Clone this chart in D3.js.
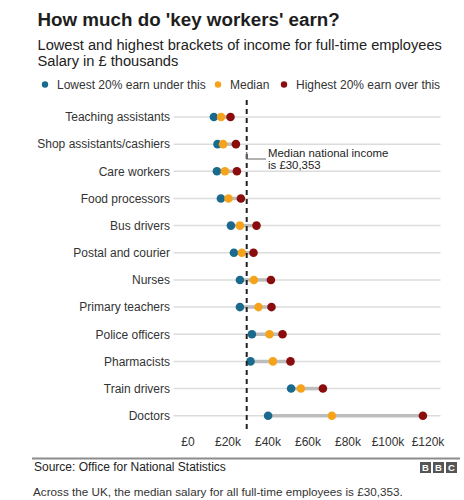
<!DOCTYPE html>
<html>
<head>
<meta charset="utf-8">
<script src="https://cdn.jsdelivr.net/npm/d3@7"></script>
<style>
  html, body { margin: 0; padding: 0; background: #fff; }
  svg { display: block; font-family: "Liberation Sans", Arial, Helvetica, sans-serif; }
</style>
</head>
<body>
<div id="chart"></div>
<script>
// ---- Data (salary in £ thousands) ----
const categories = ["Teaching assistants", "Shop assistants/cashiers", "Care workers", "Food processors",
  "Bus drivers", "Postal and courier", "Nurses", "Primary teachers", "Police officers",
  "Pharmacists", "Train drivers", "Doctors"];
const lowest20 = [13.2, 15.0, 14.7, 16.7, 21.7, 23.2, 26.2, 26.2, 32.2, 31.5, 51.8, 40.3];
const median   = [16.8, 17.8, 18.7, 20.5, 26.2, 27.2, 33.2, 35.5, 41.0, 42.7, 56.7, 72.2];
const highest20= [21.5, 24.2, 24.7, 26.7, 34.5, 33.0, 41.7, 42.0, 47.5, 51.5, 67.7, 117.7];
const tickValues = [0, 20, 40, 60, 80, 100, 120];
const tickLabels = ["£0", "£20k", "£40k", "£60k", "£80k", "£100k", "£120k"];
const nationalMedian = 30.353;
const seriesNames = ["Lowest 20% earn under this", "Median", "Highest 20% earn over this"];
const seriesColors = ["#1a6a8d", "#f5a31b", "#8a0c0c"];

const W = 464, H = 500;
const svg = d3.select("#chart").append("svg").attr("width", W).attr("height", H);

const x = d3.scaleLinear().domain([0, 120]).range([187.5, 427.5]);
const y = d3.scalePoint().domain(categories).range([117, 415.7]);

// Title & subtitle
svg.append("text").attr("x", 37.5).attr("y", 26).attr("font-size", 18.8).attr("font-weight", "bold")
  .attr("fill", "#1e1e1e").text("How much do 'key workers' earn?");
svg.append("text").attr("x", 37.5).attr("y", 50).attr("font-size", 14.65).attr("fill", "#222")
  .text("Lowest and highest brackets of income for full-time employees");
svg.append("text").attr("x", 37.5).attr("y", 66).attr("font-size", 14.65).attr("fill", "#222")
  .text("Salary in £ thousands");

// Legend
const legendX = [45, 218, 284];
seriesNames.forEach((n, i) => {
  svg.append("circle").attr("cx", legendX[i]).attr("cy", 84.5).attr("r", 3.2).attr("fill", seriesColors[i]);
  svg.append("text").attr("x", legendX[i] + 12).attr("y", 89).attr("font-size", 12).attr("fill", "#333").text(n);
});

// Gridlines
const g = svg.append("g");
g.selectAll("line.grid").data(categories).join("line").attr("class", "grid")
  .attr("x1", x(-7)).attr("x2", x(126.5))
  .attr("y1", d => y(d)).attr("y2", d => y(d))
  .attr("stroke", "#dcdcdc").attr("stroke-width", 1.5);

// Category labels
g.selectAll("text.cat").data(categories).join("text").attr("class", "cat")
  .attr("x", 170).attr("y", d => y(d) + 4.3).attr("text-anchor", "end")
  .attr("font-size", 12).attr("fill", "#333").text(d => d);

// Range bars
g.selectAll("line.range").data(categories).join("line").attr("class", "range")
  .attr("x1", (d, i) => x(lowest20[i])).attr("x2", (d, i) => x(highest20[i]))
  .attr("y1", d => y(d)).attr("y2", d => y(d))
  .attr("stroke", "#bdbdbd").attr("stroke-width", 3.5);

// National median dashed line
const ax = x(nationalMedian) - 1.5;
svg.append("line").attr("x1", ax).attr("x2", ax)
  .attr("y1", 100).attr("y2", 432).attr("stroke", "#222").attr("stroke-width", 2)
  .attr("stroke-dasharray", "5,4");

// Dots
const series = [lowest20, median, highest20];
series.forEach((vals, s) => {
  g.selectAll("circle.s" + s).data(categories).join("circle").attr("class", "s" + s)
    .attr("cx", (d, i) => x(vals[i])).attr("cy", d => y(d)).attr("r", 4.3)
    .attr("fill", seriesColors[s]);
});

// Annotation
svg.append("path").attr("d", `M${ax},152 V159 H266`).attr("fill", "none")
  .attr("stroke", "#666").attr("stroke-width", 1.2);
svg.append("text").attr("x", 268).attr("y", 157).attr("font-size", 11.4).attr("fill", "#222")
  .text("Median national income");
svg.append("text").attr("x", 268).attr("y", 168.5).attr("font-size", 11.4).attr("fill", "#222")
  .text("is £30,353");

// X axis (labels only)
const axis = d3.axisBottom(x).tickValues(tickValues).tickFormat((d, i) => tickLabels[i]).tickSize(0);
const axG = svg.append("g").attr("transform", "translate(0,434)").call(axis);
axG.select(".domain").remove();
axG.selectAll("text").attr("font-size", 12).attr("fill", "#333")
  .attr("font-family", "Liberation Sans, Arial, sans-serif");

// Footer
svg.append("line").attr("x1", 32).attr("x2", 460).attr("y1", 458.5).attr("y2", 458.5)
  .attr("stroke", "#8c8c8c").attr("stroke-width", 1.8);
svg.append("text").attr("x", 34).attr("y", 471).attr("font-size", 12).attr("fill", "#222")
  .text("Source: Office for National Statistics");
const logo = ["B", "B", "C"];
logo.forEach((l, i) => {
  const bx = 420 + i * 13;
  svg.append("rect").attr("x", bx).attr("y", 462).attr("width", 11).attr("height", 11).attr("fill", "#555");
  svg.append("text").attr("x", bx + 5.5).attr("y", 471).attr("text-anchor", "middle")
    .attr("font-size", 9.5).attr("font-weight", "bold").attr("fill", "#fff").text(l);
});
svg.append("text").attr("x", 33).attr("y", 496).attr("font-size", 11.7).attr("fill", "#333")
  .text("Across the UK, the median salary for all full-time employees is £30,353.");
</script>
</body>
</html>
